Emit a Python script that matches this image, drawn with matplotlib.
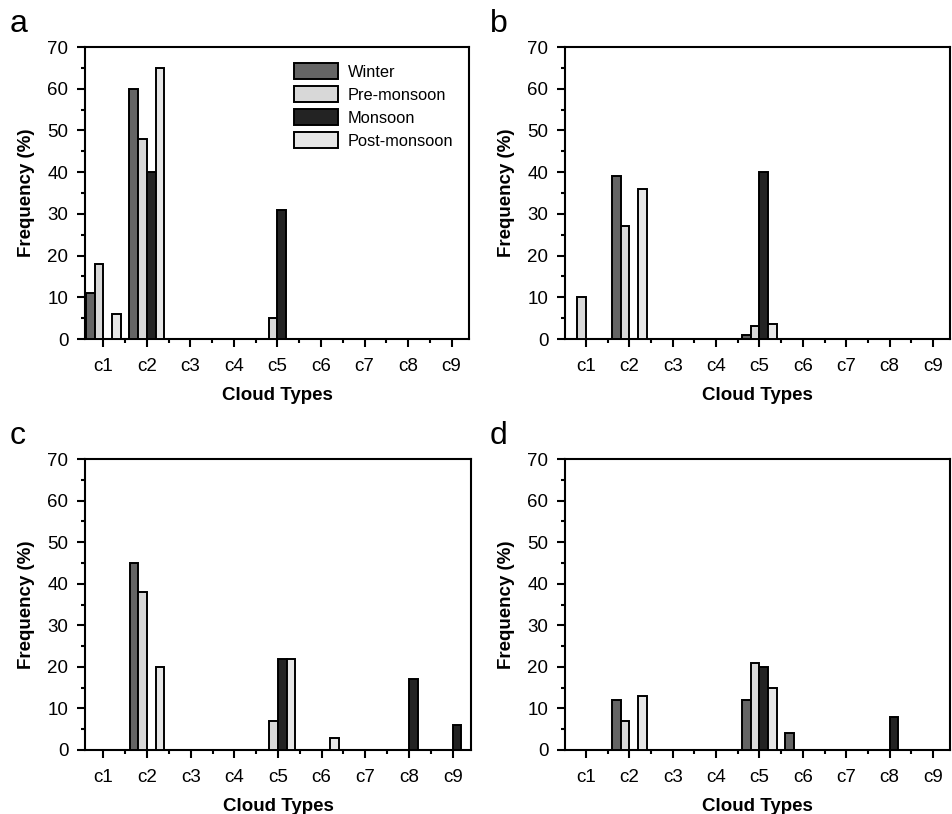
import numpy as np
import matplotlib.pyplot as plt
from matplotlib.ticker import MultipleLocator

plt.rcParams['font.family'] = ['Liberation Sans', 'DejaVu Sans']

# cloud type frequency (%) for each season, panels a-d
cloud_types = ["c1", "c2", "c3", "c4", "c5", "c6", "c7", "c8", "c9"]
seasons = ["Winter", "Pre-monsoon", "Monsoon", "Post-monsoon"]
season_colors = ["#656565", "#d8d8d8", "#232323", "#e6e6e6"]

a_winter = [11, 60, 0, 0, 0, 0, 0, 0, 0]
a_pre = [18, 48, 0, 0, 5, 0, 0, 0, 0]
a_monsoon = [0, 40, 0, 0, 31, 0, 0, 0, 0]
a_post = [6, 65, 0, 0, 0, 0, 0, 0, 0]

b_winter = [0, 39, 0, 0, 1, 0, 0, 0, 0]
b_pre = [10, 27, 0, 0, 3, 0, 0, 0, 0]
b_monsoon = [0, 0, 0, 0, 40, 0, 0, 0, 0]
b_post = [0, 36, 0, 0, 3.6, 0, 0, 0, 0]

c_winter = [0, 45, 0, 0, 0, 0, 0, 0, 0]
c_pre = [0, 38, 0, 0, 7, 0, 0, 0, 0]
c_monsoon = [0, 0, 0, 0, 22, 0, 0, 17, 6]
c_post = [0, 20, 0, 0, 22, 3, 0, 0, 0]

d_winter = [0, 12, 0, 0, 12, 4, 0, 0, 0]
d_pre = [0, 7, 0, 0, 21, 0, 0, 0, 0]
d_monsoon = [0, 0, 0, 0, 20, 0, 0, 8, 0]
d_post = [0, 13, 0, 0, 15, 0, 0, 0, 0]

panels = {
    "a": [a_winter, a_pre, a_monsoon, a_post],
    "b": [b_winter, b_pre, b_monsoon, b_post],
    "c": [c_winter, c_pre, c_monsoon, c_post],
    "d": [d_winter, d_pre, d_monsoon, d_post],
}

W, H = 952, 814
# axes boxes in pixels: left, right, top, bottom
boxes = {
    "a": (85, 469, 47, 339),
    "b": (565, 950, 47, 339),
    "c": (85, 471, 459, 750),
    "d": (565, 950, 459, 750),
}
xlims = {"a": (0.58, 9.4), "b": (0.52, 9.39), "c": (0.58, 9.42), "d": (0.52, 9.39)}

fig = plt.figure(figsize=(W / 100, H / 100), dpi=100)
x = np.arange(1, len(cloud_types) + 1)
bw = 0.2

for key, series in panels.items():
    l, r, t, b = boxes[key]
    ax = fig.add_axes([l / W, 1 - b / H, (r - l) / W, (b - t) / H])
    for i, vals in enumerate(series):
        ax.bar(x + (i - 1.5) * bw, vals, width=bw, color=season_colors[i],
               edgecolor="black", linewidth=1.4, label=seasons[i], zorder=3)
    ax.set_xlim(*xlims[key])
    ax.set_ylim(0, 70)
    ax.set_xticks(x)
    ax.set_xticklabels(cloud_types)
    ax.xaxis.set_minor_locator(MultipleLocator(1, offset=0.5))
    ax.yaxis.set_major_locator(MultipleLocator(10))
    ax.yaxis.set_minor_locator(MultipleLocator(5))
    ax.tick_params(which="both", direction="out", width=1.5, labelsize=13.5,
                   top=False, right=False)
    ax.tick_params(which="major", length=6, pad=6)
    ax.tick_params(which="minor", length=3)
    ax.tick_params(axis="x", which="major", pad=8)
    for sp in ax.spines.values():
        sp.set_linewidth(1.5)
    ax.set_xlabel("Cloud Types", fontsize=13.5, fontweight="bold", labelpad=8)
    ax.set_ylabel("Frequency (%)", fontsize=13.5, fontweight="bold", labelpad=9)
    fig.text((l - 75) / W, 1 - (t - 23) / H, key, fontsize=23, va="center", ha="left")
    if key == "a":
        ax.legend(loc="upper right", bbox_to_anchor=(0.998, 0.995), frameon=False,
                  fontsize=11.8, handlelength=2.7, handleheight=1.1,
                  labelspacing=0.4, handletextpad=0.6)

fig.savefig("out.png", dpi=100)
